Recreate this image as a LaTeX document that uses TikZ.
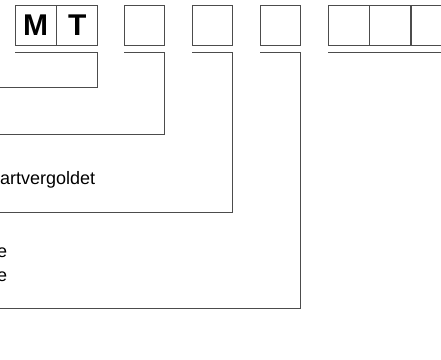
\documentclass[tikz,border=0pt]{standalone}
\usepackage{fontspec}
\setmainfont{Liberation Sans}
\usetikzlibrary{positioning}
\tikzset{
  cellbox/.style={draw=black!70, line width=0.9pt, minimum height=40pt, inner sep=0pt},
  rule/.style={draw=black!70, line width=0.9pt},
  codeletter/.style={font=\fontsize{30}{30}\selectfont\bfseries},
  legend/.style={font=\fontsize{18}{24}\selectfont, anchor=base west, inner sep=0pt}
}
\begin{document}
\begin{tikzpicture}[x=1pt, y=1pt]
  \useasboundingbox (0,0) rectangle (441,-359);
  \clip (0,0) rectangle (441,-359);
  % code boxes
  \node[cellbox, minimum width=41pt] (b_m) at (35.5,-25) {};
  \node[cellbox, minimum width=41pt, right=0pt of b_m] (b_t) {};
  \node[codeletter] at (b_m) {M};
  \node[codeletter] at (b_t) {T};
  \foreach \index/\xc in {2/144, 3/212, 4/280}
  {
    \node[cellbox, minimum width=40pt] (b_\index) at (\xc,-25) {};
  }
  \node[cellbox, minimum width=41pt] (g_1) at (348.5,-25) {};
  \node[cellbox, minimum width=41pt, right=0pt of g_1] (g_2) {};
  \node[cellbox, minimum width=41pt, right=0pt of g_2] (g_3) {};
  % underline start/end points
  \foreach \name/\xl/\xr/\yend in {m/15/97/-87, 2/124/164/-134, 3/192/232/-212, 4/260/300/-308}
  {
    \coordinate (u_\name) at (\xl,-52);
    \coordinate (k_\name) at (\xr,-52);
    \coordinate (d_\name) at (\xr,\yend);
    \coordinate (e_\name) at (0,\yend);
    \draw[rule] (u_\name) -- (k_\name) -- (d_\name) -- (e_\name);
  }
  \coordinate (u_g) at (328,-52);
  \coordinate (e_g) at (441,-52);
  \draw[rule] (u_g) -- (e_g);
  % legend texts
  \node[legend] (t_gold) at (0,-184) {artvergoldet};
  \node[legend] (t_e1) at (-3,-257.5) {e};
  \node[legend] (t_e2) at (-3,-281.5) {e};
\end{tikzpicture}
\end{document}
